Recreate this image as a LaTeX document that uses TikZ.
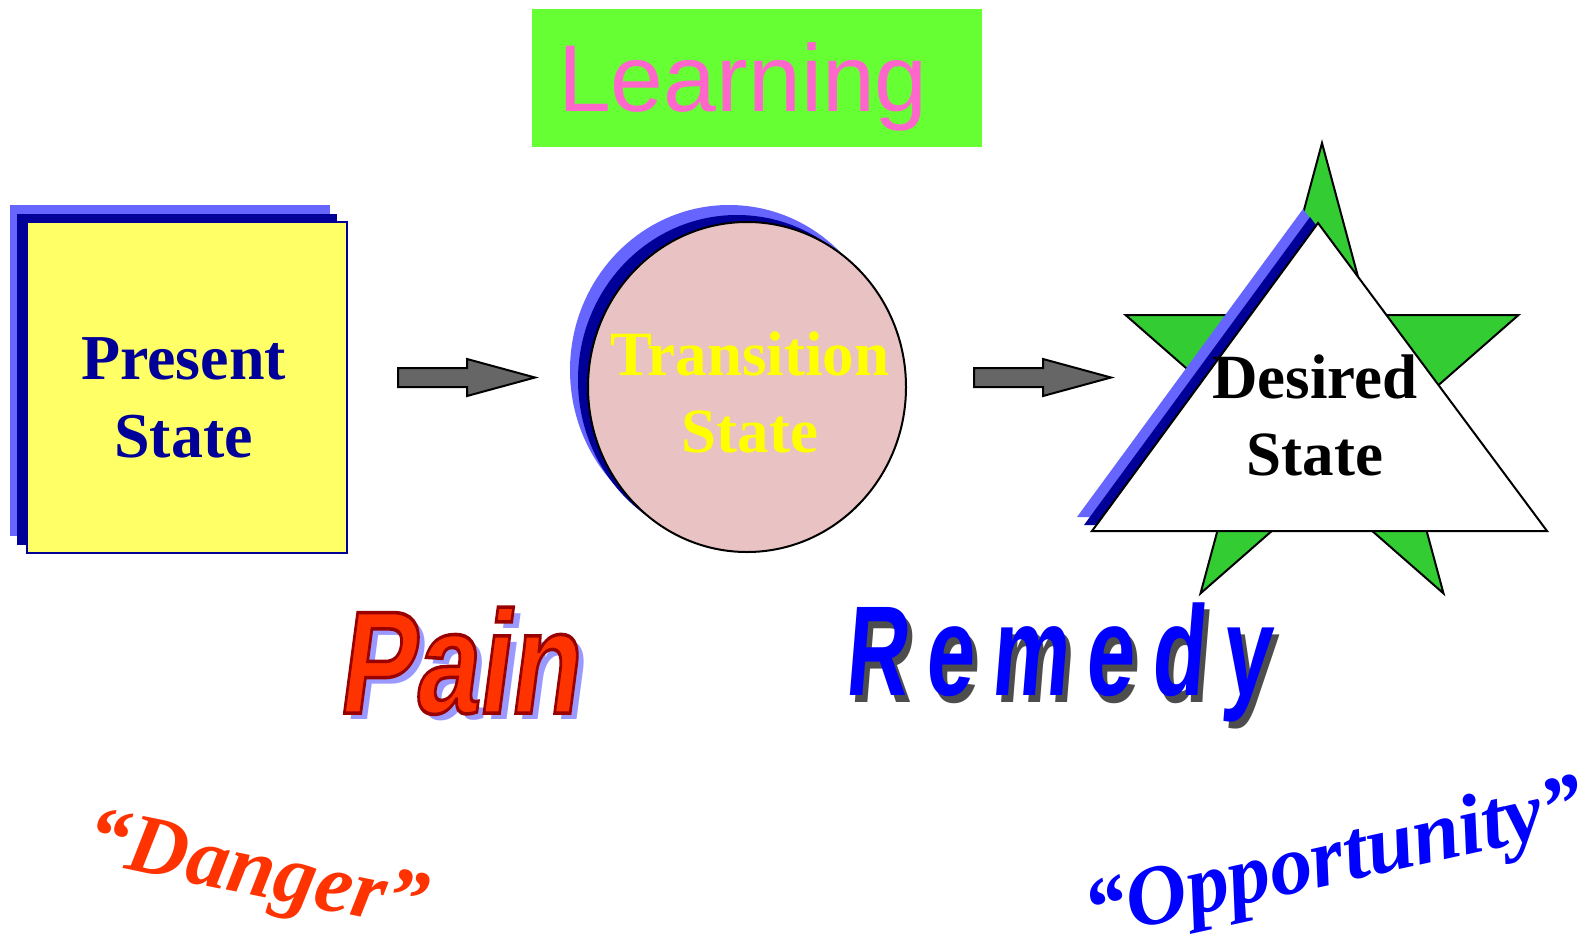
\documentclass[tikz,border=0pt]{standalone}
\usepackage{fontspec}
\setmainfont{Liberation Serif}
\setsansfont{Liberation Sans}
\usetikzlibrary{calc,shapes.geometric,shadows}
\definecolor{learnbg}{HTML}{66FF33}
\definecolor{learnfg}{HTML}{FF66CC}
\definecolor{boxyellow}{HTML}{FFFF66}
\definecolor{navyblue}{HTML}{000099}
\definecolor{lightblue}{HTML}{6666FF}
\definecolor{circfill}{HTML}{E9C2C3}
\definecolor{stargreen}{HTML}{33CC33}
\definecolor{arrowgray}{HTML}{666666}
\definecolor{painred}{HTML}{FF3300}
\definecolor{painshadow}{HTML}{9999FF}
\definecolor{remblue}{HTML}{0000FF}
\definecolor{remshadow}{HTML}{4D4D4D}
\definecolor{textyellow}{HTML}{FFFF00}
% text placed at an offset from the node centre: #1 = 2*dx, #2 = raise
\newcommand{\offtext}[3]{\makebox[0pt]{\kern#1pt\raisebox{#2pt}[0pt][0pt]{#3}}}
% filled and outlined text
\newcommand{\outlinetext}[2]{\special{pdf:code q 2 Tr #1 w 0.6 0 0 RG}#2\special{pdf:code Q}}
\newcommand{\blockarrow}[2]{%
  \draw[blockarrowstyle] ($(#1)+(0,-9.5)$) -- ($(#2)+(-68,-9.5)$) -- ($(#2)+(-68,-18.5)$) -- (#2)
    -- ($(#2)+(-68,18.5)$) -- ($(#2)+(-68,9.5)$) -- ($(#1)+(0,9.5)$) -- cycle;}
\begin{document}
\begin{tikzpicture}[x=1pt,y=-1pt,
  learnbox/.style={fill=learnbg, minimum width=450pt, minimum height=138pt, inner sep=0pt,
    text=learnfg, font=\fontsize{95}{95}\selectfont\sffamily},
  statefont/.style={font=\fontsize{64}{78}\selectfont\bfseries},
  presentbox/.style={rectangle, fill=boxyellow, draw=navyblue, line width=2pt,
    minimum width=320pt, minimum height=331pt, inner sep=0pt, text=navyblue, statefont,
    copy shadow={shadow xshift=-17pt, shadow yshift=17pt, fill=lightblue, draw=none},
    copy shadow={shadow xshift=-10pt, shadow yshift=8pt, fill=navyblue, draw=none}},
  transbox/.style={ellipse, fill=circfill, draw=black, line width=2pt,
    minimum width=318pt, minimum height=330pt, inner sep=0pt, text=textyellow,
    font=\fontsize{63}{77}\selectfont\bfseries,
    copy shadow={shadow xshift=-18pt, shadow yshift=17pt, fill=lightblue, draw=none},
    copy shadow={shadow xshift=-10pt, shadow yshift=7pt, fill=navyblue, draw=none}},
  starstyle/.style={fill=stargreen, draw=black, line width=2pt, line join=miter},
  desiredtri/.style={fill=white, draw=black, line width=2pt,
    copy shadow={shadow xshift=-15pt, shadow yshift=14pt, fill=lightblue, draw=none},
    copy shadow={shadow xshift=-8pt, shadow yshift=6pt, fill=navyblue, draw=none}},
  desiredtext/.style={inner sep=0pt, text=black, font=\fontsize{63}{77}\selectfont\bfseries},
  blockarrowstyle/.style={fill=arrowgray, draw=black, line width=2pt, line join=miter},
  painstyle/.style={anchor=base, inner sep=0pt, xscale=0.78, xslant=0.17,
    font=\fontsize{146}{146}\selectfont\sffamily\bfseries, text=painred},
  remstyle/.style={anchor=base, inner sep=0pt, xscale=0.68, xslant=0.12,
    font=\fontsize{128}{128}\selectfont\sffamily\bfseries\addfontfeature{LetterSpace=20}, text=remblue},
  dangerstyle/.style={anchor=base, inner sep=0pt, rotate=-11.5,
    font=\fontsize{84}{84}\selectfont\bfseries\itshape, text=painred},
  oppstyle/.style={anchor=base, inner sep=0pt, rotate=12.5,
    font=\fontsize{85}{85}\selectfont\bfseries\itshape, text=remblue}
]
\fill[white] (0,0) rectangle (1579,938);
\useasboundingbox (0,0) rectangle (1579,938);

% title
\node[learnbox] (learning) at (757,78) {\offtext{-28}{-33}{Learning}};

% present state
\node[presentbox] (present) at (187,387.5) {\offtext{-7}{8.5}{Present}\offtext{-7}{-69.5}{State}};

% transition state
\node[transbox] (transition) at (747,387) {\offtext{6}{12}{Transition}\offtext{6}{-65}{State}};

% desired state: star and triangle
\draw[starstyle] (1322,143) -- (1368.3,315.1) -- (1518.5,315) -- (1397,421.4) -- (1443.5,593.4)
  -- (1322,487) -- (1200.5,593.4) -- (1247,421.4) -- (1125.5,315) -- (1275.7,315.1) -- cycle;
\coordinate (tA) at (1318,223);
\coordinate (tB) at (1092,531);
\coordinate (tC) at (1547,531);
\draw[desiredtri] (tA) -- (tB) -- (tC) -- cycle;
\node[desiredtext] (desired) at (1315,398) {\offtext{0}{0}{Desired}\offtext{0}{-77}{State}};

% block arrows
\coordinate (a1tail) at (398,377.5);
\coordinate (a1tip) at (535,377.5);
\coordinate (a2tail) at (974,377.5);
\coordinate (a2tip) at (1111,377.5);
\blockarrow{a1tail}{a1tip}
\blockarrow{a2tail}{a2tip}

% Pain
\node[painstyle, text=painshadow] (painshadow) at (464,719) {Pain};
\node[painstyle] (pain) at (457,713) {\outlinetext{3.5}{Pain}};

% Remedy
\node[remstyle, text=remshadow] (remedyshadow) at (1062,702) {Remedy};
\node[remstyle] (remedy) at (1057,695) {Remedy};

% Danger / Opportunity
\node[dangerstyle] (danger) at (252,895) {“Danger”};
\node[oppstyle] (opportunity) at (1340,883) {“Opportunity”};
\end{tikzpicture}
\end{document}
